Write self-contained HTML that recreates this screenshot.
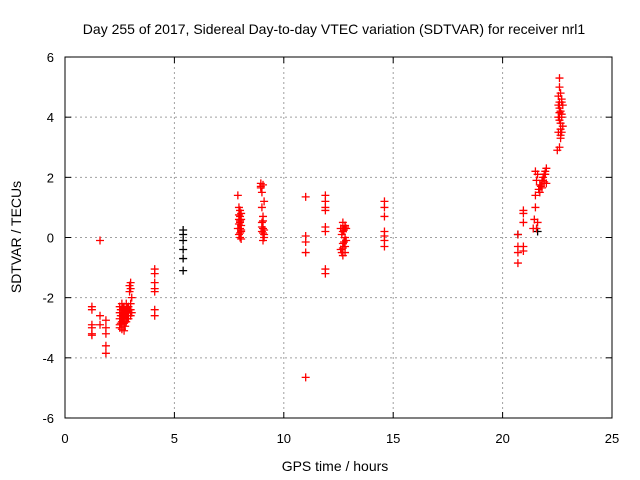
<!DOCTYPE html>
<html><head><meta charset="utf-8"><style>
body{margin:0;background:#fff}
svg{display:block;font-family:"Liberation Sans",sans-serif}
</style></head><body>
<svg id="c" width="640" height="480">
<rect width="640" height="480" fill="#fff"/>
<text x="334" y="34" text-anchor="middle" font-size="14">Day 255 of 2017, Sidereal Day-to-day VTEC variation (SDTVAR) for receiver nrl1</text>
<text x="335" y="471" text-anchor="middle" font-size="14">GPS time / hours</text>
<text transform="translate(21,237) rotate(-90)" text-anchor="middle" font-size="14">SDTVAR / TECUs</text>
<g id="grid"></g><g id="pts"></g>
<rect x="65" y="57" width="547" height="361" fill="none" stroke="#000"/>
</svg>
<script>
const xTicks=[0,5,10,15,20,25];
const yTicks=[-6,-4,-2,0,2,4,6];
const hours=[1.23,1.23,1.23,1.23,1.23,1.23,1.6,1.6,1.6,1.87,1.87,1.87,1.87,1.87,
2.5,2.5,2.5,2.5,2.5,2.6,2.6,2.6,2.6,2.6,2.7,2.7,2.7,2.7,2.7,2.8,2.8,2.8,2.8,2.9,2.9,2.9,2.95,2.95,2.95,3.0,3.0,3.0,3.0,3.0,3.05,3.05,
2.55,2.55,2.55,2.65,2.65,2.65,2.75,2.75,2.75,2.85,2.85,2.85,
4.1,4.1,4.1,4.1,4.1,4.1,4.1,
7.9,7.9,7.95,7.95,7.95,8.0,8.0,8.0,8.0,8.0,8.05,8.05,8.05,8.05,
7.95,7.95,8.0,8.0,8.05,8.05,
8.95,8.95,9.0,9.0,9.0,9.0,9.05,9.05,9.05,9.05,9.1,9.1,9.1,
8.95,9.0,9.05,9.05,9.1,
11.0,11.0,11.0,11.0,11.0,
11.9,11.9,11.9,11.9,11.9,11.9,11.9,11.9,
12.6,12.6,12.7,12.7,12.7,12.7,12.8,12.8,12.8,12.8,12.85,12.85,
12.65,12.7,12.75,12.75,12.8,12.65,
14.6,14.6,14.6,14.6,14.6,14.6,14.6,
20.7,20.7,20.7,20.7,20.95,20.95,20.95,20.95,20.95,
21.4,21.45,21.5,21.5,21.55,21.6,21.6,21.7,21.75,21.8,21.85,21.9,21.95,22.0,22.0,21.5,21.55,
21.65,21.7,21.8,21.9,21.95,
22.5,22.55,22.55,22.6,22.6,22.6,22.65,22.65,22.65,22.7,22.7,22.7,22.75,22.75,22.6,22.65,22.6,22.7,22.55,
22.6,22.65,22.7,22.6,22.65,22.55];
const values=[-2.3,-2.4,-2.9,-3.0,-3.2,-3.25,-0.1,-2.6,-2.9,-2.75,-3.0,-3.2,-3.6,-3.85,
-2.3,-2.5,-2.7,-2.9,-3.0,-2.2,-2.4,-2.6,-2.8,-3.05,-2.3,-2.5,-2.65,-2.85,-3.1,-2.2,-2.4,-2.6,-2.8,-2.3,-2.5,-2.7,-1.6,-1.8,-2.4,-1.5,-1.7,-2.2,-2.4,-2.6,-2.0,-2.5,
-2.4,-2.6,-2.85,-2.35,-2.55,-2.75,-2.45,-2.6,-2.95,-2.35,-2.5,-2.7,
-1.05,-1.2,-1.5,-1.7,-1.8,-2.4,-2.6,
1.4,0.3,1.0,0.6,0.1,0.9,0.7,0.5,0.3,0.0,0.8,0.4,0.2,-0.05,
0.45,0.75,0.55,0.15,0.6,0.25,
1.8,1.7,1.5,1.0,0.5,0.2,1.75,0.7,0.3,-0.1,1.2,0.1,0.0,
1.65,0.35,0.15,0.55,0.25,
1.35,0.05,-0.15,-0.5,-4.65,
1.4,1.2,1.0,0.9,0.35,0.2,-1.05,-1.2,
0.3,-0.4,0.5,0.2,-0.2,-0.6,0.4,0.0,-0.3,-0.5,0.3,-0.1,
0.1,-0.35,0.25,-0.15,0.35,-0.5,
1.2,1.0,0.7,0.2,0.05,-0.1,-0.3,
0.1,-0.3,-0.5,-0.85,0.9,0.8,0.5,-0.3,-0.45,
0.3,0.6,1.0,1.4,1.9,2.1,0.5,1.5,1.7,1.9,2.0,2.1,2.2,2.3,1.8,2.2,0.3,
1.6,1.75,1.65,1.85,2.1,
2.9,3.5,4.0,5.3,5.0,4.5,4.8,4.2,3.8,4.6,4.0,3.5,4.4,3.7,3.0,3.3,4.3,4.1,4.7,
3.9,3.6,4.5,4.15,3.4,4.4];
const blackHours=[5.4,5.4,5.4,5.4,5.4,5.4,20.7,21.6];
const blackValues=[0.25,0.1,-0.1,-0.4,-0.7,-1.1,0.1,0.2];
const X=h=>65+h*21.88, Y=v=>237.5-v*30.08;
const NS="http://www.w3.org/2000/svg";
const g=document.getElementById('grid'), p=document.getElementById('pts');
function mk(par,tag,at){const e=document.createElementNS(NS,tag);for(const k in at)e.setAttribute(k,at[k]);par.appendChild(e);return e;}
xTicks.forEach(t=>{const x=X(t);
 if(t>0&&t<25){const l=mk(g,'line',{x1:x,x2:x,y1:57,y2:418,stroke:'#a0a0a0','stroke-dasharray':'2,3'});
 
 }
 mk(g,'line',{x1:x,x2:x,y1:418,y2:412,stroke:'#000'});mk(g,'line',{x1:x,x2:x,y1:57,y2:63,stroke:'#000'});
 const tx=mk(g,'text',{x:x,y:443,'text-anchor':'middle','font-size':'13'});tx.textContent=t;
 
 });
yTicks.forEach(t=>{const y=Y(t);
 if(t>-6&&t<6){const l=mk(g,'line',{x1:65,x2:612,y1:y,y2:y,stroke:'#a0a0a0','stroke-dasharray':'2,3'});
 
 }
 mk(g,'line',{x1:65,x2:71,y1:y,y2:y,stroke:'#000'});mk(g,'line',{x1:612,x2:606,y1:y,y2:y,stroke:'#000'});
 const tx=mk(g,'text',{x:54,y:y+5,'text-anchor':'end','font-size':'13'});tx.textContent=t;
 
 });
function plus(h,v,col){const x=X(h),y=Y(v);
 const e=mk(p,'path',{d:`M${x-4},${y}h8M${x},${y-4}v8`,stroke:col,'stroke-width':'1.3',fill:'none'});
 
 }
blackHours.forEach((h,i)=>plus(h,blackValues[i],'#000'));
hours.forEach((h,i)=>plus(h,values[i],'#f00'));
</script>
</body></html>
